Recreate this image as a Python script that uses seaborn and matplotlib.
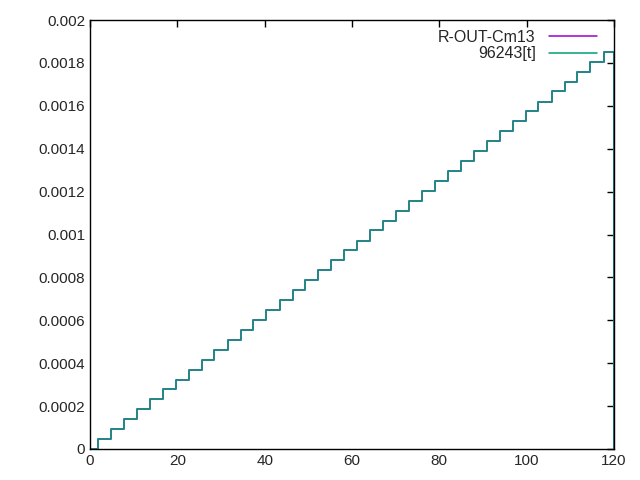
import matplotlib
matplotlib.use("Agg")
import matplotlib.pyplot as plt
import seaborn as sns
import pandas as pd

sns.set_style("white")
plt.rcParams['font.family'] = ['Liberation Sans', 'DejaVu Sans']

step_x = [1.8, 4.8, 7.8, 10.7, 13.7, 16.7, 19.6, 22.6, 25.6, 28.5, 31.5, 34.5, 37.4, 40.4,
          43.4, 46.4, 49.3, 52.3, 55.3, 58.2, 61.2, 64.2, 67.1, 70.1, 73.1, 76.0, 79.0, 82.0,
          84.9, 87.9, 90.9, 93.8, 96.8, 99.8, 102.7, 105.7, 108.7, 111.6, 114.6, 117.6]
step_y = [0.0000463, 0.0000926, 0.000139, 0.000185, 0.000232, 0.000278, 0.000324, 0.000370,
          0.000417, 0.000463, 0.000509, 0.000556, 0.000602, 0.000648, 0.000695, 0.000741,
          0.000787, 0.000833, 0.000880, 0.000926, 0.000972, 0.001019, 0.001065, 0.001111,
          0.001158, 0.001204, 0.001250, 0.001296, 0.001343, 0.001389, 0.001435, 0.001482,
          0.001528, 0.001574, 0.001620, 0.001667, 0.001713, 0.001759, 0.001806, 0.001852]

xs = [0] + step_x + [120, 120]
ys = [0] + step_y + [step_y[-1], 0]
df = pd.DataFrame({"x": xs, "y": ys})

fig = plt.figure(figsize=(6.4, 4.8), dpi=100)
ax = fig.add_axes([90/640, 1-449/480, (614-90)/640, (449-20)/480])
sns.lineplot(data=df, x="x", y="y", ax=ax, drawstyle="steps-post", color="#9400d3",
             label="R-OUT-Cm13", lw=1.1, estimator=None, sort=False)
sns.lineplot(data=df, x="x", y="y", ax=ax, drawstyle="steps-post", color="#009e73",
             label="96243[t]", lw=1.1, estimator=None, sort=False)
ax.set_xlim(0, 120)
ax.set_ylim(0, 0.002)
ax.set_xticks(range(0, 121, 20))
yt = [i * 0.0002 for i in range(11)]
ax.set_yticks(yt)
ax.set_yticklabels(["0", "0.0002", "0.0004", "0.0006", "0.0008", "0.001", "0.0012",
                    "0.0014", "0.0016", "0.0018", "0.002"])
ax.set_xlabel("")
ax.set_ylabel("")
ax.tick_params(direction="in", top=True, right=True, length=5, labelsize=11, width=1, color="black")
for s in ax.spines.values():
    s.set_color("black")
    s.set_linewidth(1)
ax.legend(loc="upper right", bbox_to_anchor=(0.985, 1.0), frameon=False, markerfirst=False,
          fontsize=11.5, handlelength=3, borderaxespad=0.2, labelspacing=0.1)
fig.savefig("out.png", dpi=100)
